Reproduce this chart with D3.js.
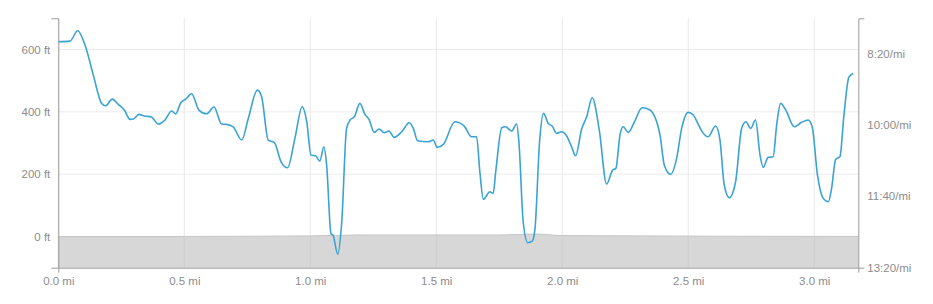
<!DOCTYPE html>
<html>
<head>
<meta charset="utf-8">
<script src="https://cdn.jsdelivr.net/npm/d3@7/dist/d3.min.js"></script>
<style>
  html, body { margin: 0; padding: 0; background: #fff; }
  svg { display: block; font-family: Lato, "Open Sans", sans-serif; }
  .tick text { fill: #8c8c8c; font-size: 11.5px; }
  .domain { stroke: #9a9a9a; }
</style>
</head>
<body>
<svg id="chart" width="933" height="304"></svg>
<script>
// ---- data ----
const paceDist = [0.000,0.046,0.077,0.106,0.139,0.172,0.188,0.214,0.238,0.262,0.285,0.298,0.320,0.341,0.368,0.397,0.423,0.450,0.466,0.486,0.506,0.529,0.558,0.589,0.618,0.648,0.668,0.694,0.728,0.754,0.790,0.807,0.833,0.857,0.884,0.910,0.939,0.968,0.986,1.003,1.021,1.038,1.054,1.065,1.082,1.091,1.109,1.125,1.144,1.158,1.175,1.197,1.217,1.233,1.254,1.273,1.294,1.312,1.333,1.363,1.393,1.409,1.426,1.468,1.488,1.504,1.528,1.574,1.611,1.640,1.660,1.673,1.687,1.713,1.726,1.736,1.760,1.775,1.799,1.819,1.828,1.845,1.863,1.881,1.892,1.910,1.926,1.944,1.960,1.978,1.998,2.017,2.037,2.053,2.077,2.097,2.119,2.147,2.176,2.200,2.213,2.229,2.242,2.262,2.288,2.317,2.348,2.388,2.405,2.430,2.454,2.474,2.500,2.520,2.540,2.554,2.579,2.609,2.626,2.643,2.663,2.688,2.712,2.729,2.748,2.767,2.785,2.798,2.817,2.837,2.851,2.867,2.887,2.921,2.950,2.976,2.992,3.013,3.036,3.056,3.069,3.085,3.102,3.118,3.138,3.155];
// pace in seconds per mile
const paceSec = [483.9,483.0,468.5,488.5,530.5,570.1,573.4,564.1,571.5,579.4,592.5,592.0,585.5,587.8,588.8,599.0,593.4,580.8,585.0,569.2,564.1,556.6,579.4,584.6,575.2,599.0,599.4,602.8,621.4,591.1,551.5,560.8,621.4,624.6,651.8,660.1,619.0,574.8,595.8,642.4,643.4,650.8,630.8,656.4,751.9,755.2,781.3,735.7,605.0,593.4,588.8,570.1,585.5,592.5,610.6,606.0,611.2,608.8,617.6,609.8,597.2,605.0,622.4,623.8,621.4,631.6,627.4,595.8,601.8,616.8,616.8,665.7,704.3,693.7,696.0,665.7,604.2,602.8,608.8,599.0,623.8,735.7,765.0,762.7,744.9,623.8,584.1,598.0,601.8,612.0,609.8,615.4,630.8,643.4,606.0,588.8,562.2,607.4,682.9,663.4,661.0,614.4,602.8,610.6,594.8,576.2,579.4,614.4,656.4,669.4,647.0,605.0,582.7,586.4,599.4,608.8,616.8,601.8,621.4,684.3,702.1,679.7,605.0,595.8,605.0,593.4,642.4,659.6,645.6,644.8,600.4,570.1,579.4,602.8,596.6,593.4,602.8,670.4,703.0,707.7,689.0,648.4,644.8,586.4,532.9,528.1];
const elevDist = [0, 0.5, 0.8, 1.0, 1.2, 1.5, 1.75, 1.9, 2.0, 2.3, 2.6, 3.175];
const elevFt   = [0, 0,   1,   2,   5,   5,   5,    8,   3,   2,   1,   0];
const distTicks = [0, 0.5, 1.0, 1.5, 2.0, 2.5, 3.0];
const elevTicks = [0, 200, 400, 600];
const paceTicks = [500, 600, 700, 800];
const paceTickLabels = ["8:20/mi", "10:00/mi", "11:40/mi", "13:20/mi"];

// ---- layout ----
const svg = d3.select("#chart");
const L = 58.3, R = 858.3, T = 18.3, B = 267.7;

const x = d3.scaleLinear().domain([0, 3.175]).range([L, R]);
const yE = d3.scaleLinear().domain([-100, 700]).range([B, T]);
const yP = d3.scaleLinear().domain([451, 800]).range([T, B]);

// grid
const grid = svg.append("g");
grid.selectAll("line.v").data(distTicks).join("line")
  .attr("x1", d => x(d)).attr("x2", d => x(d))
  .attr("y1", T).attr("y2", B)
  .attr("stroke", "#e8e8e8").attr("stroke-width", 1);
grid.selectAll("line.h").data(elevTicks).join("line")
  .attr("x1", L).attr("x2", R)
  .attr("y1", d => yE(d)).attr("y2", d => yE(d))
  .attr("stroke", "#ececec").attr("stroke-width", 1);

// elevation area
const elevData = elevDist.map((d, i) => ({ d, v: elevFt[i] }));
svg.append("path").datum(elevData)
  .attr("fill", "#d7d7d7")
  .attr("d", d3.area().x(p => x(p.d)).y0(B).y1(p => yE(p.v)).curve(d3.curveMonotoneX));
svg.append("path").datum(elevData)
  .attr("fill", "none").attr("stroke", "#c6c6c6").attr("stroke-width", 1)
  .attr("d", d3.line().x(p => x(p.d)).y(p => yE(p.v)).curve(d3.curveMonotoneX));

// redraw vertical grid faintly over area
svg.append("g").selectAll("line").data(distTicks).join("line")
  .attr("x1", d => x(d)).attr("x2", d => x(d))
  .attr("y1", yE(0)).attr("y2", B)
  .attr("stroke", "#c9c9c9").attr("stroke-width", 1).attr("opacity", 0.6);

// pace line
const paceData = paceDist.map((d, i) => ({ d, v: paceSec[i] }));
svg.append("path").datum(paceData)
  .attr("fill", "none")
  .attr("stroke", "#3aa3d5")
  .attr("stroke-width", 1.6)
  .attr("stroke-linejoin", "round")
  .attr("d", d3.line().x(p => x(p.d)).y(p => yP(p.v)).curve(d3.curveMonotoneX));

// axes
const xAxis = d3.axisBottom(x).tickValues(distTicks)
  .tickFormat(d => d3.format(".1f")(d) + " mi").tickSizeInner(0).tickSizeOuter(5).tickPadding(9);
svg.append("g").attr("transform", `translate(0,${B})`).call(xAxis);

const leftAxis = d3.axisLeft(yE).tickValues(elevTicks)
  .tickFormat(d => d + " ft").tickSizeInner(0).tickSizeOuter(7).tickPadding(8);
svg.append("g").attr("transform", `translate(${L},0)`).call(leftAxis);

const rightAxis = d3.axisRight(yP).tickValues(paceTicks)
  .tickFormat((d, i) => paceTickLabels[i]).tickSizeInner(0).tickSizeOuter(6).tickPadding(9);
svg.append("g").attr("transform", `translate(${R},0)`).call(rightAxis);

svg.selectAll(".tick line").remove();
</script>
</body>
</html>
